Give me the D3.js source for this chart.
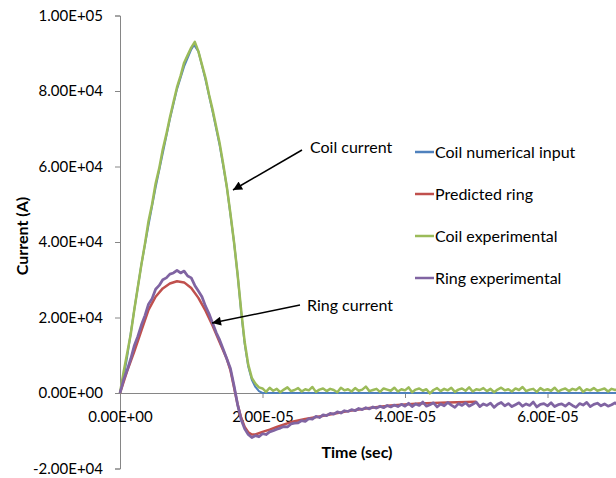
<!DOCTYPE html>
<html>
<head>
    <title></title>
    <meta http-equiv="content-type" content="text/html; charset=utf-8">
    <script type="text/javascript" src="https://cdn.jsdelivr.net/npm/d3@7"></script>
    <style>
        body { margin: 0; background: #fff; }
        text { font-family: Lato, 'Liberation Sans', sans-serif; fill: #000; }
    </style>
</head>
<body>
<div class='chart'></div>
<script type="text/javascript">
// ======================
// data (time in sec, current in A)
// ======================
var seriesNames = ['Coil numerical input', 'Predicted ring', 'Coil experimental', 'Ring experimental'];
var seriesColors = ['#4F81BD', '#C0504D', '#9BBB59', '#8064A2'];

var yTicks = [-20000, 0, 20000, 40000, 60000, 80000, 100000];
var xTicks = [0, 2e-5, 4e-5, 6e-5];

// smooth curves, [time in microsec, current]
var coilNumerical = [
    [0, 0], [0.5, 4000], [1, 9500], [2, 22000], [3, 34000], [4, 44500], [5, 54500],
    [6, 63500], [7, 72500], [8, 80500], [9, 86500], [10, 91000], [10.4, 92200], [11, 90500],
    [12, 83000], [13, 74500], [14, 65500], [15, 54500], [16, 40000], [16.5, 31500],
    [17, 21500], [17.5, 13000], [18, 7000], [18.5, 3500], [19, 1600], [19.5, 500],
    [20, 0], [30, 0], [50, 0], [70, 0]
];
var predictedRing = [
    [0, 0], [1, 5800], [2, 11000], [3, 16500], [4, 22000], [5, 25500], [6, 27700],
    [7, 29000], [8, 29600], [9, 29300], [10, 27800], [11, 25200], [12, 21800], [13, 17800],
    [14, 13400], [15, 9000], [15.5, 6000], [16, 1500], [16.5, -3000], [17, -6500],
    [17.5, -9000], [18, -10400], [18.5, -11000], [19, -11000], [20, -10300], [21, -9700],
    [22, -9000], [24, -7700], [26, -6900], [28, -6200], [30, -5500], [32, -4800],
    [35, -4000], [38, -3300], [42, -2800], [46, -2500], [50, -2300]
];

// scope samples, one every 0.5 microsec from 0
var sampleStep = 0.5e-6;
var coilExperimental = [
    0, 5500, 10500, 15500, 22000, 28000, 34000, 39500, 45500, 50000,
    55500, 59500, 64500, 68500, 73000, 77000, 81000, 84000, 87500, 89500,
    91500, 93000, 90500, 87000, 83500, 79000, 75000, 70500, 66000, 60500,
    54500, 47500, 40000, 31500, 22000, 13500, 7500, 4000, 2500, 1500,
    1200,
    300, 1400, 600, 1100, 200, 900, 1500, 500, 800, 1300,
    400, 1000, 700, 1600, 300, 900, 1200, 500, 1100, 800,
    200, 1400, 700, 1000, 400, 1300, 600, 900, 1700, 500,
    800, 1100, 300, 1200, 900, 600, 1400, 400, 1000, 700,
    1500, 200, 900, 1200, 600, 1000, -100, 800, 1300, 500,
    1100, 700, 1400, 300, 900, 1200, 600, 1500, 400, 1000,
    800, 1300, 500, 1100, 200, 900, 1400, 700, 1000, 400,
    1200, 800, 1600, 500, 900, 1100, 300, 1300, 700, 1000,
    600, 1400, 400, 900, 1200, 500, 1100, 800, 1500, 300,
    1000, 700, 1300, 600, 900, 1200, 400, 1100, 800, 1000
];
var ringExperimental = [
    0, 3500, 6000, 9000, 12500, 15000, 18000, 20500, 23500, 25000,
    27500, 28500, 30000, 30500, 31500, 31800, 32500, 31800, 32300, 31000,
    30500, 28500, 27000, 25500, 23000, 21000, 18500, 16000, 14000, 11500,
    9000, 6500, 2000, -3000, -7000, -9500, -11000, -11800, -11300, -11600,
    -10800, -11000, -10300, -10000, -9600, -9300, -8900, -9000, -8200, -8000,
    -7900, -7300, -7500, -6800, -6900, -6200, -6500, -5800, -6000, -5400,
    -5600, -5000, -5300, -4700, -4900, -4400, -4700, -4100, -4400, -3900,
    -4200, -3700, -4000, -3500, -3900, -3300, -3700, -3200, -3600, -3000,
    -3500,
    -2700, -3600, -2900, -3300, -2400, -3500, -3100, -2600, -3700, -2900,
    -3400, -2500, -3200, -3800, -2800, -3300, -2600, -3500, -3000, -2400,
    -3600, -2900, -3300, -2700, -3800, -3000, -2500, -3400, -2800, -3600,
    -3100, -2600, -3500, -2900, -3300, -2400, -3700, -3000, -2800, -3400,
    -2600, -3600, -3100, -2900, -3500, -2700, -3300, -3800, -2800, -3200,
    -2500, -3600, -3000, -2700, -3400, -2900, -3500, -3100, -2600, -3300
];

// ======================
// helpers
// ======================
function sciFormat(v) {
    // Excel style 0.00E+00, plain hyphen for negatives
    var parts = d3.format('.2e')(v).replace('\u2212', '-').split('e');
    var exp = +parts[1];
    var sign = exp < 0 ? '-' : '+';
    var digits = Math.abs(exp) < 10 ? '0' + Math.abs(exp) : '' + Math.abs(exp);
    return parts[0] + 'E' + sign + digits;
}
function fromMicro(arr) {
    return arr.map(function (d) { return [d[0] * 1e-6, d[1]]; });
}
function fromSamples(arr) {
    return arr.map(function (v, i) { return [i * sampleStep, v]; });
}

// ======================
// svg
// ======================
var width = 616, height = 478;
var svg = d3.select('.chart')
        .append('svg')
        .attr('width', width)
        .attr('height', height);

var x = d3.scaleLinear().domain([0, 8e-5]).range([120, 690]);
var y = d3.scaleLinear().domain([-20000, 100000]).range([468.5, 15.5]);

var axisColor = '#868686';
var tickFont = '15px';
var textFont = '16px';

// y axis
var yAxis = svg.append('g')
        .attr('transform', 'translate(' + x(0) + ',0)')
        .call(d3.axisLeft(y).tickValues(yTicks).tickSize(5).tickPadding(12).tickFormat(sciFormat));
// x axis crosses at zero
var xAxis = svg.append('g')
        .attr('transform', 'translate(0,' + y(0) + ')')
        .call(d3.axisBottom(x).tickValues(xTicks).tickSize(5).tickPadding(13).tickFormat(sciFormat));

[yAxis, xAxis].forEach(function (a) {
    a.select('.domain').attr('stroke', axisColor).attr('stroke-width', 1);
    a.selectAll('.tick line').attr('stroke', axisColor);
    a.selectAll('.tick text')
            .style('font-size', tickFont)
            .attr('fill', '#000');
});
xAxis.select('.domain').attr('d', 'M' + x(0) + ',0.5H' + width);

// axis titles
svg.append('text')
        .attr('transform', 'translate(22,236) rotate(-90)')
        .attr('text-anchor', 'middle')
        .attr('dy', '0.35em')
        .style('font-size', textFont)
        .style('font-weight', 'bold')
        .text('Current (A)');
svg.append('text')
        .attr('x', 357)
        .attr('y', 452)
        .attr('text-anchor', 'middle')
        .attr('dy', '0.35em')
        .style('font-size', textFont)
        .style('font-weight', 'bold')
        .text('Time (sec)');

// ======================
// series
// ======================
var line = d3.line()
        .x(function (d) { return x(d[0]); })
        .y(function (d) { return y(d[1]); });

var series = [
    { data: fromMicro(coilNumerical), width: 2 },
    { data: fromMicro(predictedRing), width: 2.5 },
    { data: fromSamples(coilExperimental), width: 2.5 },
    { data: fromSamples(ringExperimental), width: 2.75 }
];
series.forEach(function (s, i) {
    svg.append('path')
            .datum(s.data)
            .attr('d', line)
            .attr('fill', 'none')
            .attr('stroke', seriesColors[i])
            .attr('stroke-width', s.width)
            .attr('stroke-linejoin', 'round');
});

// ======================
// annotations
// ======================
svg.append('defs')
        .append('marker')
        .attr('id', 'arrow')
        .attr('viewBox', '0 0 10 10')
        .attr('refX', 10)
        .attr('refY', 5)
        .attr('markerWidth', 7)
        .attr('markerHeight', 6)
        .attr('markerUnits', 'strokeWidth')
        .attr('orient', 'auto')
        .append('path')
        .attr('d', 'M0,0L10,5L0,10Z')
        .attr('fill', '#000');

var notes = [
    { text: 'Coil current', tx: 310, ty: 147, from: [302, 150], to: [233, 190] },
    { text: 'Ring current', tx: 307, ty: 305, from: [300, 305], to: [212, 323] }
];
notes.forEach(function (n) {
    svg.append('line')
            .attr('x1', n.from[0]).attr('y1', n.from[1])
            .attr('x2', n.to[0]).attr('y2', n.to[1])
            .attr('stroke', '#000')
            .attr('stroke-width', 1.5)
            .attr('marker-end', 'url(#arrow)');
    svg.append('text')
            .attr('x', n.tx)
            .attr('y', n.ty)
            .attr('dy', '0.35em')
            .style('font-size', textFont)
            .text(n.text);
});

// ======================
// legend
// ======================
var legend = svg.append('g');
var legendY = [152, 194, 236, 278];
seriesNames.forEach(function (name, i) {
    legend.append('line')
            .attr('x1', 415).attr('x2', 434)
            .attr('y1', legendY[i]).attr('y2', legendY[i])
            .attr('stroke', seriesColors[i])
            .attr('stroke-width', 2.5);
    legend.append('text')
            .attr('x', 435)
            .attr('y', legendY[i])
            .attr('dy', '0.35em')
            .style('font-size', textFont)
            .text(name);
});
</script>
</body>
</html>
